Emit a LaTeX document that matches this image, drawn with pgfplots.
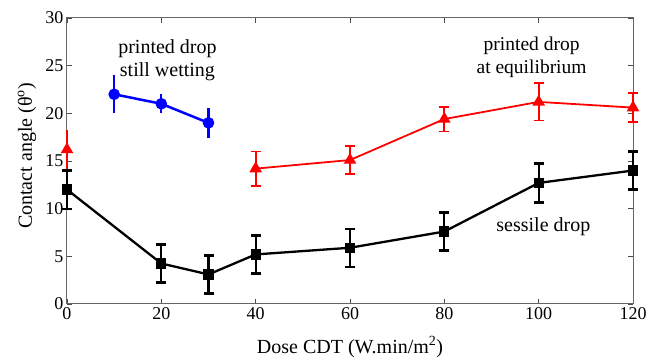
\documentclass[border=0pt]{standalone}
\usepackage{pgfplots}
\pgfplotsset{compat=1.18}
\usepackage{fontspec}
\setmainfont{Liberation Serif}
\begin{document}
\begin{tikzpicture}
\begin{axis}[
  scale only axis,
  width=566pt, height=286pt,
  xmin=0, xmax=120, ymin=0, ymax=30,
  xtick={0,20,40,60,80,100,120},
  ytick={0,5,10,15,20,25,30},
  tick align=inside,
  major tick length=5pt,
  axis line style={draw=black!60, line width=1pt},
  tick style={draw=black!70, line width=0.8pt},
  tick label style={font=\fontsize{18}{20}\selectfont},
  /pgf/number format/assume math mode=true,
  xlabel={Dose CDT (W.min/m\textsuperscript{2})},
  ylabel={Contact angle (θ\textsuperscript{o})},
  label style={font=\fontsize{20}{24}\selectfont},
  xlabel style={at={(rel axis cs:0.5,0)}, anchor=base, yshift=-49pt},
  ylabel style={at={(rel axis cs:-0.0707,0.5175)}, anchor=center},
  clip=false,
]
% red single point at 0
\addplot[red, line width=1.8pt, mark=triangle*, mark size=5.5pt,
  error bars/.cd, y dir=both, y explicit,
  error bar style={line width=1.8pt}, error mark options={mark size=0pt}]
  coordinates {(0,16.2) +- (0,2.1)};
% red series
\addplot[red, line width=1.8pt, mark=triangle*, mark size=5.5pt,
  error bars/.cd, y dir=both, y explicit,
  error bar style={line width=1.8pt}, error mark options={rotate=90, mark size=5pt, line width=1.8pt}]
  coordinates {
  (40,14.2) +- (0,1.8)
  (60,15.1) +- (0,1.5)
  (80,19.4) +- (0,1.3)
  (100,21.2) +- (0,1.95)
  (120,20.6) +- (0,1.55)
  };
% blue series
\addplot[blue, line width=2.5pt, mark=*, mark size=4.5pt,
  error bars/.cd, y dir=both, y explicit,
  error bar style={line width=2.2pt}, error mark=none]
  coordinates {
  (10,22.0) +- (0,2.0)
  (20,21.0) +- (0,1.0)
  (30,19.0) +- (0,1.6)
  };
% black series
\addplot[black, line width=2.3pt, mark=square*, mark size=4pt,
  error bars/.cd, y dir=both, y explicit,
  error bar style={line width=2.3pt}, error mark options={rotate=90, mark size=5pt, line width=2.3pt}]
  coordinates {
  (0,12.0) +- (0,2.0)
  (20,4.25) +- (0,2.0)
  (30,3.1) +- (0,2.0)
  (40,5.2) +- (0,2.0)
  (60,5.9) +- (0,2.0)
  (80,7.6) +- (0,2.0)
  (100,12.7) +- (0,2.05)
  (120,14.0) +- (0,2.0)
  };
\node[font=\fontsize{20}{23}\selectfont, align=center] at (axis cs:21.3,25.6) {printed drop\\still wetting};
\node[font=\fontsize{19.5}{23}\selectfont, align=center] at (axis cs:98.5,25.9) {printed drop\\at equilibrium};
\node[font=\fontsize{20}{23}\selectfont] at (axis cs:101,8.1) {sessile drop};
\path (rel axis cs:0,0) ++(-67pt,-55pt) coordinate (bbA);
\path (rel axis cs:1,1) ++(27pt,18pt) coordinate (bbB);
\path (bbA) rectangle (bbB);
\end{axis}
\end{tikzpicture}
\end{document}
